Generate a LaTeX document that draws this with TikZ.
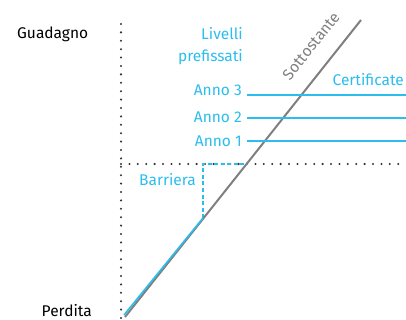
\documentclass[tikz,border=0pt]{standalone}
\usepackage{fontspec}
\setmainfont{Fira Sans}
\definecolor{cyanb}{HTML}{2BBDEE}
\definecolor{grayl}{HTML}{7F7F7F}
\definecolor{dotc}{HTML}{333333}
\tikzset{
  lbl/.style={inner sep=0pt, font=\fontsize{15.5}{18}\selectfont},
  blbl/.style={lbl, text=cyanb},
  dotline/.style={dotc, line width=2.3pt, line cap=round, dash pattern=on 0pt off 8.4pt},
  bline/.style={cyanb, line width=1.6pt},
  bdash/.style={cyanb, line width=1.6pt, dash pattern=on 4pt off 2.5pt},
}
\begin{document}
\begin{tikzpicture}[x=1pt,y=-1pt]
\useasboundingbox (0,0) rectangle (406,320);
% axes (dotted)
\coordinate (vtop) at (121,24);
\coordinate (vbot) at (121,318);
\coordinate (hl) at (121,164);
\coordinate (hr) at (406,164);
\draw[dotline] (vtop) -- (vbot);
\draw[dotline] (hl) -- (hr);
% underlying
\coordinate (g0) at (125,317);
\coordinate (g1) at (361,20);
\coordinate (bk) at (203,218);
\coordinate (bt) at (203,164);
\coordinate (bx) at (247,164);
\draw[bdash] (bk) -- (bt) -- (bx);
\draw[grayl, line width=2pt] (g0) -- (g1);
\draw[bline] (124,315) -- (bk);
% levels
\coordinate (a3l) at (247,95); \coordinate (a3r) at (406,95);
\coordinate (a2l) at (247,118); \coordinate (a2r) at (406,118);
\coordinate (a1l) at (247,141); \coordinate (a1r) at (406,141);
\draw[bline] (a3l) -- (a3r);
\draw[bline] (a2l) -- (a2r);
\draw[bline] (a1l) -- (a1r);
% labels
\node[lbl, anchor=west] (gu) at (17,34) {Guadagno};
\node[lbl, anchor=east] (pe) at (92,311) {Perdita};
\node[blbl, anchor=east] (l1) at (243,34) {Livelli};
\node[blbl, anchor=east] (l2) at (243,57) {prefissati};
\node[blbl, anchor=east] (t3) at (242,90) {Anno 3};
\node[blbl, anchor=east] (t2) at (242,117) {Anno 2};
\node[blbl, anchor=east] (t1) at (242,141) {Anno 1};
\node[blbl, anchor=east] (ce) at (404,80) {Certificate};
\node[blbl, anchor=west] (ba) at (139,180) {Barriera};
\node[lbl, text=grayl, rotate=51.5] (so) at (311,46) {Sottostante};
\end{tikzpicture}
\end{document}
